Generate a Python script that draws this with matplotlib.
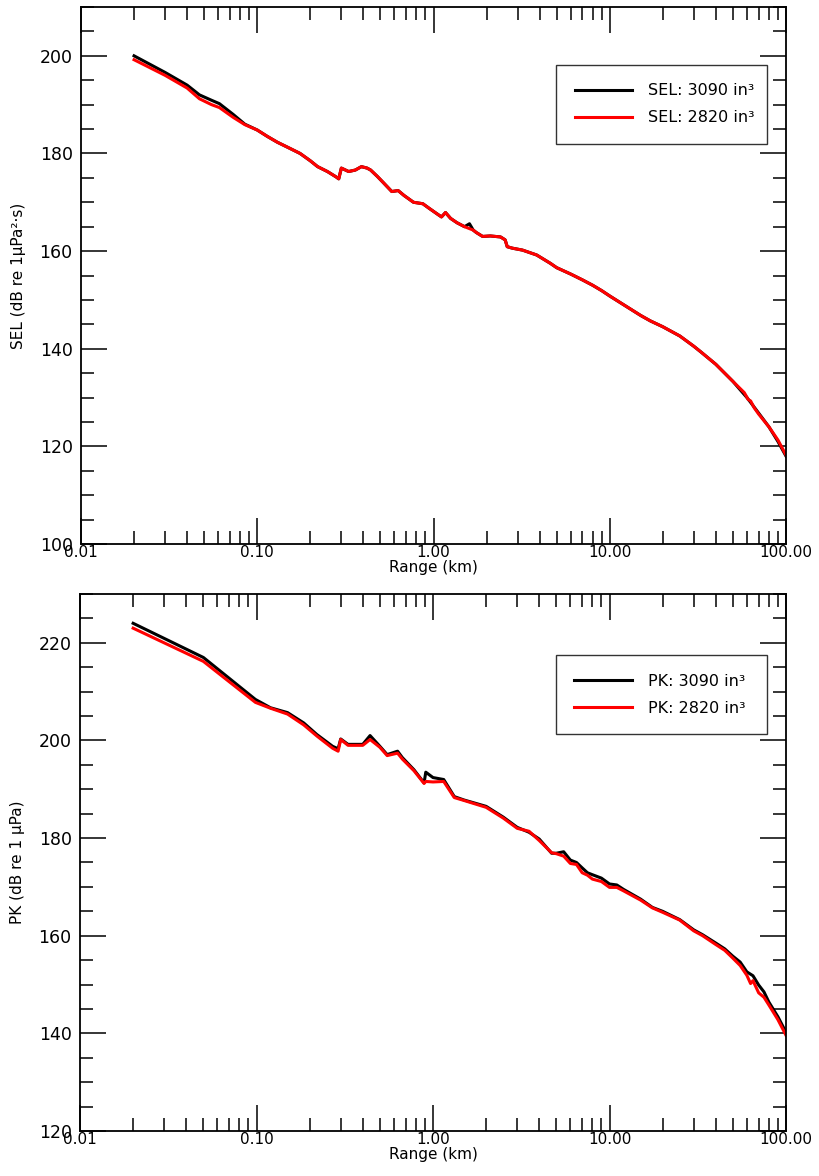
import matplotlib
matplotlib.use("Agg")
import matplotlib.pyplot as plt
from matplotlib.ticker import FixedLocator, FuncFormatter, MultipleLocator, LogLocator, NullFormatter

# SEL curves (range km, dB re 1 uPa^2 s)
sel_r_3090 = [0.02, 0.03, 0.04, 0.047, 0.055, 0.061, 0.073, 0.085, 0.1, 0.114, 0.13, 0.15, 0.175,
              0.2, 0.22, 0.25, 0.28, 0.29, 0.3, 0.33, 0.36, 0.39, 0.42, 0.44, 0.48, 0.52, 0.58,
              0.63, 0.68, 0.77, 0.87, 0.95, 1.05, 1.11, 1.17, 1.25, 1.36, 1.5, 1.6, 1.68, 1.75,
              1.9, 2.1, 2.4, 2.55, 2.62, 2.8, 3.2, 3.85, 4.6, 5.0, 6.0, 7.0, 8.0, 9.0, 10.0, 12.0,
              15.0, 17.0, 20.0, 25.0, 30.0, 33.0, 40.0, 50.0, 60.0, 63.0, 70.0, 80.0, 90.0, 100.0]
sel_3090 = [200.0, 196.6, 194.0, 192.0, 190.9, 190.2, 188.0, 186.0, 184.8, 183.5, 182.3, 181.2, 180.0,
            178.5, 177.3, 176.3, 175.2, 174.8, 177.0, 176.3, 176.6, 177.3, 177.0, 176.6, 175.3, 174.0, 172.2,
            172.4, 171.4, 170.0, 169.7, 168.7, 167.6, 167.0, 167.9, 166.7, 165.8, 165.0, 165.6, 164.3, 163.8,
            163.0, 163.1, 162.9, 162.3, 160.9, 160.6, 160.2, 159.2, 157.5, 156.6, 155.3, 154.1, 153.0, 151.9, 150.8, 149.0,
            146.8, 145.7, 144.5, 142.6, 140.5, 139.3, 136.8, 133.3, 130.0, 129.0, 126.8, 124.0, 121.0, 118.0]

sel_r_2820 = [0.02, 0.03, 0.04, 0.047, 0.055, 0.061, 0.073, 0.085, 0.1, 0.114, 0.13, 0.15, 0.175,
              0.2, 0.22, 0.25, 0.28, 0.29, 0.3, 0.33, 0.36, 0.39, 0.42, 0.44, 0.48, 0.52, 0.58,
              0.63, 0.68, 0.77, 0.87, 0.95, 1.05, 1.11, 1.17, 1.25, 1.36, 1.5, 1.6, 1.68, 1.75,
              1.9, 2.1, 2.4, 2.55, 2.62, 2.8, 3.2, 3.85, 4.6, 5.0, 6.0, 7.0, 8.0, 9.0, 10.0, 12.0,
              15.0, 17.0, 20.0, 25.0, 30.0, 33.0, 40.0, 50.0, 58.0, 61.0, 63.0, 66.0, 70.0, 80.0, 90.0, 100.0]
sel_2820 = [199.2, 196.0, 193.4, 191.2, 190.0, 189.4, 187.4, 185.9, 184.8, 183.5, 182.3, 181.2, 180.0,
            178.5, 177.3, 176.3, 175.2, 174.8, 177.0, 176.3, 176.6, 177.3, 177.0, 176.6, 175.3, 174.0, 172.2,
            172.4, 171.4, 170.0, 169.7, 168.7, 167.6, 167.0, 167.9, 166.7, 165.8, 165.0, 164.6, 164.3, 163.8,
            163.0, 163.1, 162.9, 162.3, 160.9, 160.6, 160.2, 159.2, 157.5, 156.6, 155.3, 154.1, 153.0, 151.9, 150.8, 149.0,
            146.8, 145.7, 144.5, 142.6, 140.5, 139.3, 136.8, 133.3, 131.0, 129.6, 129.3, 127.9, 126.6, 124.0, 121.3, 118.2]

# PK curves (range km, dB re 1 uPa)
pk_r_3090 = [0.02, 0.05, 0.0986, 0.12, 0.15, 0.185, 0.22, 0.27, 0.29, 0.3, 0.33, 0.4, 0.44, 0.5,
             0.55, 0.63, 0.67, 0.78, 0.89, 0.91, 1.0, 1.15, 1.32, 1.5, 2.0, 2.5, 3.0, 3.5, 4.0, 4.7,
             5.0, 5.5, 6.0, 6.5, 7.0, 7.5, 8.0, 9.0, 10.0, 11.0, 12.0, 15.0, 17.5, 20.0, 25.0, 30.0,
             33.7, 40.0, 45.0, 50.0, 55.0, 60.0, 65.0, 70.0, 75.0, 80.0, 90.0, 100.0]
pk_3090 = [224.0, 217.0, 208.4, 206.7, 205.7, 203.6, 201.2, 198.8, 198.3, 200.3, 199.2, 199.2, 201.0, 198.8,
           197.1, 197.8, 196.5, 194.0, 191.3, 193.5, 192.4, 192.0, 188.5, 187.8, 186.5, 184.3, 182.2, 181.2, 179.8, 176.9,
           176.9, 177.2, 175.5, 175.0, 173.9, 172.9, 172.5, 171.8, 170.6, 170.4, 169.5, 167.5, 165.8, 165.0, 163.3, 161.2,
           160.2, 158.5, 157.3, 155.8, 154.6, 152.6, 151.8, 149.9, 148.5, 146.4, 143.4, 140.2]

pk_r_2820 = [0.02, 0.05, 0.0986, 0.12, 0.15, 0.185, 0.22, 0.27, 0.29, 0.3, 0.33, 0.4, 0.44, 0.5,
             0.55, 0.63, 0.67, 0.78, 0.89, 0.91, 1.0, 1.15, 1.32, 1.5, 2.0, 2.5, 3.0, 3.5, 4.0, 4.7,
             5.0, 5.5, 6.0, 6.5, 7.0, 7.5, 8.0, 9.0, 10.0, 11.0, 12.0, 15.0, 17.5, 20.0, 25.0, 30.0,
             33.7, 40.0, 45.0, 50.0, 55.0, 60.0, 63.0, 65.0, 70.0, 75.0, 80.0, 90.0, 100.0]
pk_2820 = [223.0, 216.2, 207.8, 206.6, 205.4, 203.2, 200.9, 198.4, 197.8, 200.2, 199.0, 199.0, 200.2, 198.6,
           196.9, 197.4, 196.2, 193.8, 191.2, 191.6, 191.5, 191.6, 188.3, 187.7, 186.3, 184.1, 182.0, 181.4, 179.5, 177.0,
           176.8, 176.3, 174.8, 174.6, 172.9, 172.4, 171.6, 171.1, 169.9, 169.9, 169.2, 167.3, 165.7, 164.8, 163.2, 161.0,
           160.0, 158.2, 157.0, 155.4, 153.9, 151.9, 150.2, 150.8, 148.3, 147.4, 145.8, 142.8, 139.6]

x_ticks = [0.01, 0.1, 1, 10, 100]

plt.rcParams['font.family'] = ['DejaVu Sans']
fig = plt.figure(figsize=(8.19, 11.76), dpi=100)
ax1 = fig.add_axes([81 / 819, 1 - 544 / 1176, 705 / 819, 537 / 1176])
ax2 = fig.add_axes([80 / 819, 1 - 1131 / 1176, 706 / 819, 537 / 1176])


def style_axis(ax, ylo, yhi):
    ax.set_xscale('log')
    ax.set_xlim(0.01, 100)
    ax.set_ylim(ylo, yhi)
    ax.xaxis.set_major_locator(FixedLocator(x_ticks))
    ax.xaxis.set_major_formatter(FuncFormatter(lambda v, p: '%.2f' % v))
    ax.xaxis.set_minor_locator(LogLocator(base=10, subs=range(2, 10)))
    ax.xaxis.set_minor_formatter(NullFormatter())
    ax.yaxis.set_major_locator(MultipleLocator(20))
    ax.yaxis.set_minor_locator(MultipleLocator(5))
    ax.tick_params(which='both', direction='in', top=True, right=True, width=1.1)
    ax.tick_params(which='major', length=19)
    ax.tick_params(which='minor', length=9.5)
    ax.tick_params(axis='x', which='major', labelsize=11, pad=1)
    ax.tick_params(axis='y', which='major', labelsize=12.5, pad=6)
    for s in ax.spines.values():
        s.set_linewidth(1.3)
    ax.set_xlabel('Range (km)', fontsize=11, labelpad=0)


ax1.plot(sel_r_3090, sel_3090, color='black', lw=2.2, label='SEL: 3090 in³')
ax1.plot(sel_r_2820, sel_2820, color='red', lw=2.2, label='SEL: 2820 in³')
style_axis(ax1, 100, 210)
ax1.set_ylabel('SEL (dB re 1μPa²·s)', fontsize=11, labelpad=10)

ax2.plot(pk_r_3090, pk_3090, color='black', lw=2.2, label='PK: 3090 in³')
ax2.plot(pk_r_2820, pk_2820, color='red', lw=2.2, label='PK: 2820 in³')
style_axis(ax2, 120, 230)
ax2.set_ylabel('PK (dB re 1 μPa)', fontsize=11, labelpad=10)

for ax, top in ((ax1, 0.892), (ax2, 0.886)):
    h = 0.14
    leg = ax.legend(loc='upper left', bbox_to_anchor=(0.674, top - h, 0.299, h), mode='expand',
                    fontsize=11.5, fancybox=False, framealpha=1, edgecolor='#333333',
                    handlelength=3.6, borderpad=1.15, labelspacing=0.75, handletextpad=1.0,
                    borderaxespad=0)
    leg.get_frame().set_linewidth(1.0)

fig.savefig('out.png', dpi=100)
